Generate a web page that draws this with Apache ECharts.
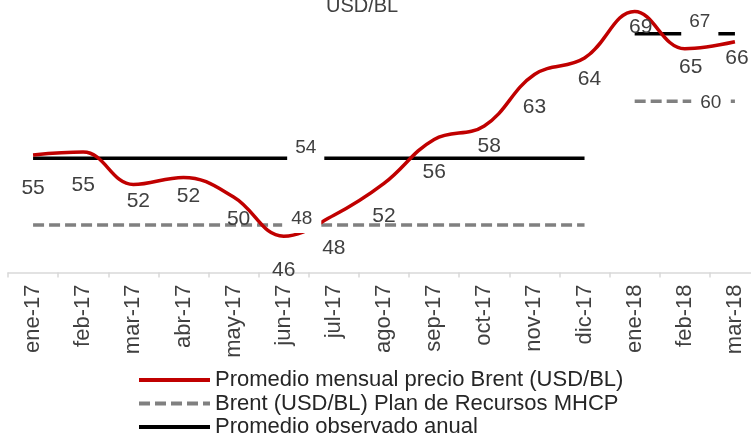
<!DOCTYPE html>
<html>
<head>
<meta charset="utf-8">
<script src="https://cdn.jsdelivr.net/npm/echarts@6/dist/echarts.min.js"></script>
<style>
html, body { margin: 0; padding: 0; background: #fff; overflow: hidden; }
#main { width: 760px; height: 438px; }
</style>
</head>
<body>
<div id="main"></div>
<script>
var meses = ['ene-17', 'feb-17', 'mar-17', 'abr-17', 'may-17', 'jun-17', 'jul-17', 'ago-17',
    'sep-17', 'oct-17', 'nov-17', 'dic-17', 'ene-18', 'feb-18', 'mar-18'];

var brentMensual = [54.58, 54.87, 51.59, 52.31, 50.33, 46.37, 48.48, 51.70,
    56.15, 57.51, 62.71, 64.37, 69.08, 65.32, 66.02];

var promedio2017 = [54.25, 54.25, 54.25, 54.25, 54.25, 54.25, 54.25, 54.25,
    54.25, 54.25, 54.25, 54.25, null, null, null];
var promedio2018 = [null, null, null, null, null, null, null, null,
    null, null, null, null, 66.84, 66.84, 66.84];

var plan2017 = [47.5, 47.5, 47.5, 47.5, 47.5, 47.5, 47.5, 47.5,
    47.5, 47.5, 47.5, 47.5, null, null, null];
var plan2018 = [null, null, null, null, null, null, null, null,
    null, null, null, null, 60, 60, 60];

var nombreBrent = 'Promedio mensual precio Brent (USD/BL)';
var nombrePlan = 'Brent (USD/BL) Plan de Recursos MHCP';
var nombreProm = 'Promedio observado anual';

var fuente = 'Liberation Sans';
var colorTexto = '#404040';

// desplazamiento [dx, dy] de cada etiqueta roja respecto a su punto
var offsetsRojo = [[0, 33], [0, 33], [5, 17], [5, 19], [5, 22], [0, 34], [0, 33], [0, 33],
    [0, 33], [5, 20], [0, 33], [5, 21], [6, 16], [6, 19], [2, 16]];

function redondear(p) {
    return Math.round(p.value);
}

function conOffsets(valores, offsets) {
    return valores.map(function (v, i) {
        return { value: v, label: { offset: offsets[i] } };
    });
}

// una sola etiqueta con fondo blanco que tapa las lineas
function etiquetaEn(valores, idx, offset, padding) {
    return valores.map(function (v, i) {
        if (i !== idx) return v;
        return {
            value: v,
            label: { show: true, offset: offset, padding: padding, backgroundColor: '#fff' }
        };
    });
}

var etiquetaBase = {
    show: false,
    position: 'inside',
    fontFamily: fuente,
    fontSize: 19,
    color: colorTexto,
    formatter: redondear
};

function serieRecta(nombre, datos, color, tipo) {
    return {
        name: nombre,
        type: 'line',
        data: datos,
        symbol: 'circle',
        symbolSize: 0,
        lineStyle: { color: color, width: 3.5, type: tipo },
        itemStyle: { color: color },
        label: etiquetaBase,
        emphasis: { disabled: true }
    };
}

var chartDom = document.getElementById('main');
var myChart = echarts.init(chartDom);
var option;

option = {
    animation: false,
    title: {
        text: 'USD/BL',
        left: 326,
        top: -4,
        padding: 0,
        textStyle: { fontFamily: fuente, fontSize: 20, fontWeight: 'normal', color: colorTexto }
    },
    legend: {
        orient: 'vertical',
        left: 137,
        top: 369,
        padding: 0,
        itemWidth: 71,
        itemHeight: 4,
        itemGap: 1.5,
        data: [nombreBrent, nombrePlan, nombreProm],
        lineStyle: { width: 4 },
        textStyle: { fontFamily: fuente, fontSize: 22, lineHeight: 22, color: '#262626' }
    },
    grid: {
        left: 8,
        top: 0,
        right: 0,
        height: 272.5
    },
    xAxis: {
        type: 'category',
        data: meses,
        boundaryGap: true,
        axisLine: { lineStyle: { color: '#d9d9d9', width: 1.5 } },
        axisTick: { show: true, interval: 0, length: 5, lineStyle: { color: '#d9d9d9', width: 1.5 } },
        axisLabel: {
            interval: 0,
            rotate: 90,
            margin: 12,
            fontFamily: fuente,
            fontSize: 22,
            color: colorTexto
        }
    },
    yAxis: {
        type: 'value',
        min: 42.7,
        max: 70.24,
        show: false
    },
    series: [
        serieRecta(nombrePlan, etiquetaEn(plan2017, 5, [18, -6.5], [5, 9]), '#808080', [11, 5]),
        serieRecta(nombrePlan, etiquetaEn(plan2018, 13, [26, 1], [3, 9]), '#808080', [11, 5]),
        serieRecta(nombreProm, etiquetaEn(promedio2017, 5, [22, -10], [4, 8]), '#000000', 'solid'),
        serieRecta(nombreProm, etiquetaEn(promedio2018, 13, [15, -12], [5, 8]), '#000000', 'solid'),
        {
            name: nombreBrent,
            type: 'line',
            data: conOffsets(brentMensual, offsetsRojo),
            smooth: 0.4,
            symbol: 'circle',
            symbolSize: 0,
            lineStyle: { color: '#c00000', width: 3.5 },
            itemStyle: { color: '#c00000' },
            label: {
                show: true,
                position: 'inside',
                fontFamily: fuente,
                fontSize: 21,
                color: colorTexto,
                formatter: redondear
            },
            emphasis: { disabled: true }
        }
    ]
};

option && myChart.setOption(option);
</script>
</body>
</html>
